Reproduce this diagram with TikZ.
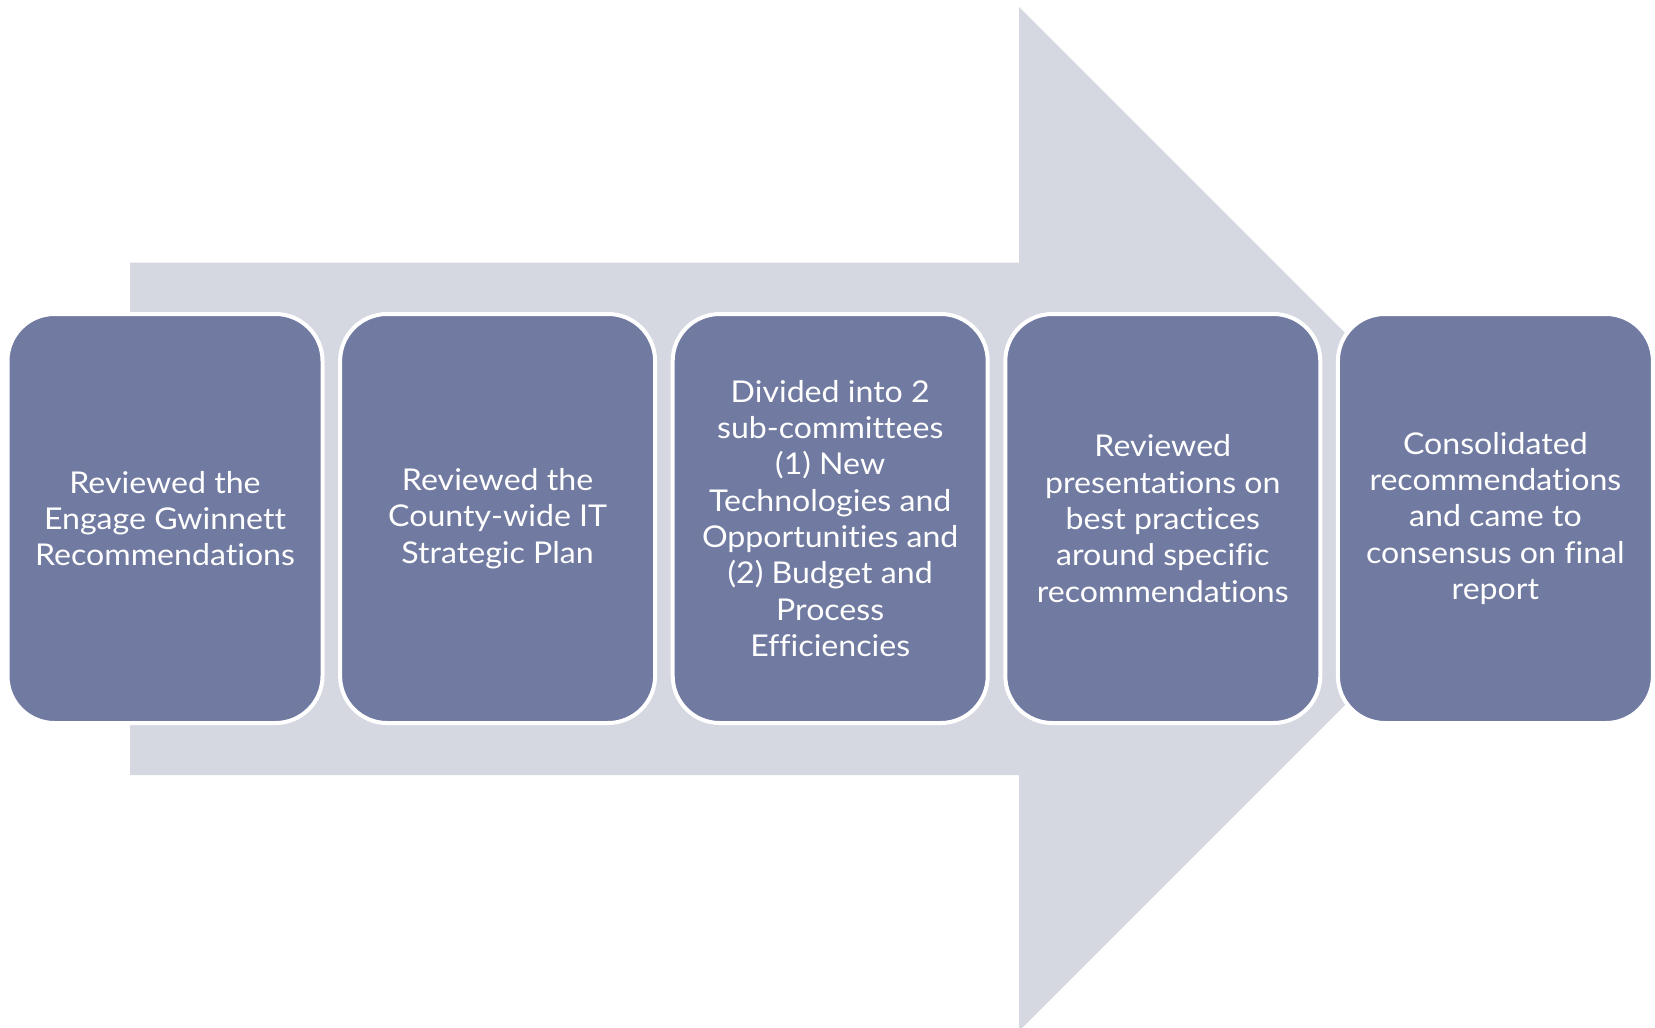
\documentclass[tikz,border=0pt]{standalone}
\usepackage{fontspec}
\setmainfont{Lato}[Ligatures=NoCommon, FakeStretch=1.07]
\definecolor{arrowgray}{HTML}{D5D8E1}
\definecolor{boxblue}{HTML}{717AA1}
\tikzset{
  stepbox/.style={draw=white, line width=4pt, fill=boxblue, rounded corners=47pt,
    minimum width=315pt, minimum height=409pt, text=white, align=center,
    inner sep=0pt, font=\fontsize{30}{36.3}\selectfont},
}
\begin{document}
\begin{tikzpicture}[x=1pt,y=-1pt]
\useasboundingbox (0,0) rectangle (1655,1028);
\fill[arrowgray] (130,262.7) -- (1019,262.7) -- (1019,7) -- (1531,519) -- (1019,1031) -- (1019,775) -- (130,775) -- cycle;
\node[stepbox] (s1) at (165,518.5) {Reviewed the\\Engage Gwinnett\\Recommendations};
\node[stepbox] (s2) at (497.6,518.5) {Reviewed the\\County-wide IT\\Strategic Plan};
\node[stepbox] (s3) at (830.2,518.5) {Divided into 2\\sub-committees\\(1) New\\Technologies and\\Opportunities and\\(2) Budget and\\Process\\Efficiencies};
\node[stepbox] (s4) at (1162.8,518.5) {Reviewed\\presentations on\\best practices\\around specific\\recommendations};
\node[stepbox] (s5) at (1495.4,518.5) {Consolidated\\recommendations\\and came to\\consensus on final\\report};
\end{tikzpicture}
\end{document}
